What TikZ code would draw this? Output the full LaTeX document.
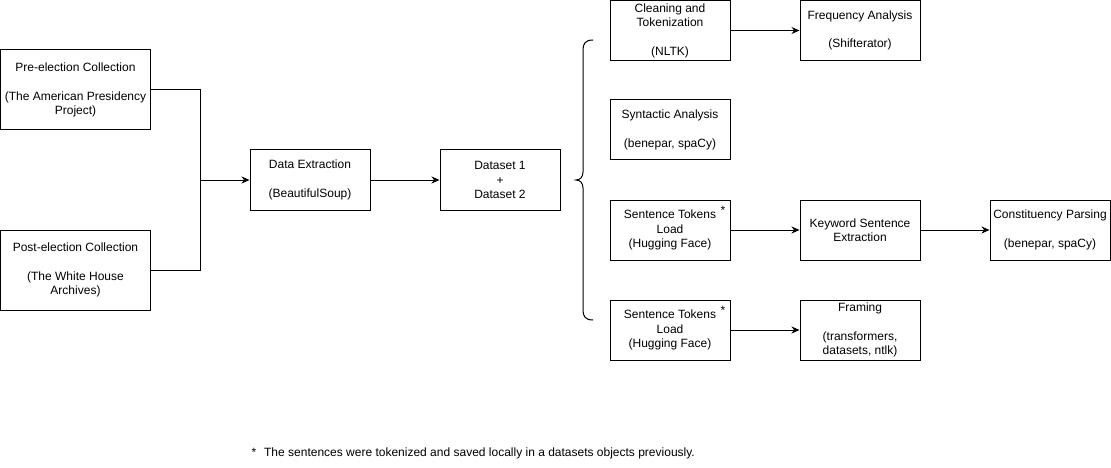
\documentclass[tikz,border=0pt]{standalone}
\usepackage{fontspec}
\setmainfont{Liberation Sans}
\usetikzlibrary{arrows.meta,positioning}

\begin{document}
\begin{tikzpicture}[x=1pt,y=-1pt,line width=1pt,>={Stealth[length=8pt,width=7pt]},
	stagebox/.style={draw,align=center,minimum width=120pt,minimum height=60pt,inner sep=0pt,font=\fontsize{12}{14.4}\selectfont},
	sourcebox/.style={stagebox,minimum width=150pt,minimum height=80pt},
	notemark/.style={inner sep=0pt,font=\fontsize{12}{14.4}\selectfont}]
	\useasboundingbox (0,0) rectangle (1111,468);

	% collection
	\node[sourcebox] (pre) at (75.5,90) {Pre-election Collection\\[14pt](The American Presidency\\Project)};
	\node[sourcebox] (post) at (75.5,270) {Post-election Collection\\[14pt](The White House\\Archives)};
	\coordinate (join) at (200,180);
	\node[stagebox] (extract) at (310,180) {Data Extraction\\[14pt](BeautifulSoup)};
	\node[stagebox, right=69pt of extract] (dataset) {Dataset 1\\+\\Dataset 2};

	\draw (pre.east) -| (join);
	\draw (post.east) -| (join);
	\draw[->] (join) -- (extract);
	\draw[->] (extract) -- (dataset);

	% brace
	\draw[line width=1pt] (593,40) .. controls (585,40) and (583,44) .. (583,50) -- (583,172)
		.. controls (583,177) and (580,180) .. (576,180) .. controls (580,180) and (583,183) .. (583,188)
		-- (583,310) .. controls (583,316) and (585,320) .. (593,320);

	% analyses
	\node[stagebox] (clean) at (670,30.5) {Cleaning and\\Tokenization\\[14pt](NLTK)};
	\node[stagebox, right=69pt of clean] (freq) {Frequency Analysis\\[14pt](Shifterator)};
	\node[stagebox] (syntax) at (670,130) {Syntactic Analysis\\[14pt](benepar, spaCy)};
	\node[stagebox] (tokload1) at (670,230) {Sentence Tokens\\Load\\(Hugging Face)};
	\node[stagebox, right=69pt of tokload1] (keyword) {Keyword Sentence\\Extraction};
	\node[stagebox, right=69pt of keyword] (constituency) {Constituency Parsing\\[14pt](benepar, spaCy)};
	\node[stagebox] (tokload2) at (670,330) {Sentence Tokens\\Load\\(Hugging Face)};
	\node[stagebox, right=69pt of tokload2] (framing) {Framing\\[14pt](transformers,\\datasets, ntlk)};

	\node[notemark] (star1) at (723,210) {*};
	\node[notemark] (star2) at (723,310) {*};

	\draw[->] (clean) -- (freq);
	\draw[->] (tokload1) -- (keyword);
	\draw[->] (keyword) -- (constituency);
	\draw[->] (tokload2) -- (framing);

	\node[notemark, anchor=west] (footnote) at (251,453) {*\hspace{8pt}The sentences were tokenized and saved locally in a datasets objects previously.};
\end{tikzpicture}
\end{document}
